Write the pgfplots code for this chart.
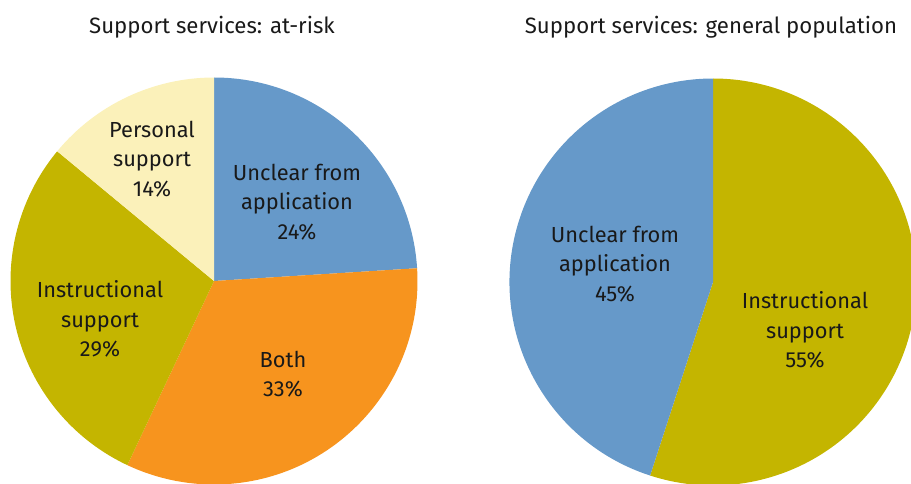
\documentclass[border=0pt]{standalone}
\usepackage{fontspec}
\setmainfont{Fira Sans}
\usepackage{pgfplots}
\usepackage{pgfplotstable}
\pgfplotsset{compat=1.18}
\definecolor{cblue}{HTML}{6699C9}
\definecolor{corange}{HTML}{F7941E}
\definecolor{colive}{HTML}{C4B500}
\definecolor{ccream}{HTML}{FBF1BA}

\pgfplotstableread{
label value
Unclear 24
Both 33
Instructional 29
Personal 14
}\atrisk
\pgfplotstableread{
label value
Instructional 55
Unclear 45
}\general

% cumulative angles, clockwise from 12 o'clock
\newcommand\getval[3]{\pgfplotstablegetelem{#2}{value}\of#1\global\let#3\pgfplotsretval}
\getval{\atrisk}{0}\vAa \getval{\atrisk}{1}\vAb \getval{\atrisk}{2}\vAc \getval{\atrisk}{3}\vAd
\getval{\general}{0}\vBa \getval{\general}{1}\vBb
\pgfmathsetmacro\aAa{90}
\pgfmathsetmacro\aAb{90-3.6*\vAa}
\pgfmathsetmacro\aAc{\aAb-3.6*\vAb}
\pgfmathsetmacro\aAd{\aAc-3.6*\vAc}
\pgfmathsetmacro\aAe{\aAd-3.6*\vAd}
\pgfmathsetmacro\aBa{90}
\pgfmathsetmacro\aBb{90-3.6*\vBa}
\pgfmathsetmacro\aBc{\aBb-3.6*\vBb}

\newcommand\slice[5]{% center x, center y, start, end, colour
  \fill[#5] (axis cs:#1,#2) -- ++(#3:101.75pt) arc[start angle=#3, end angle=#4, radius=101.75pt] -- cycle;}

\begin{document}
\begin{tikzpicture}
\begin{axis}[
  x=0.5pt, y=0.5pt,
  xmin=0, xmax=911, ymin=0, ymax=483,
  hide axis, clip=true,
]
\slice{214}{202}{\aAa}{\aAb}{cblue}
\slice{214}{202}{\aAb}{\aAc}{corange}
\slice{214}{202}{\aAc}{\aAd}{colive}
\slice{214}{202}{\aAd}{\aAe}{ccream}
\slice{713}{201}{\aBa}{\aBb}{colive}
\slice{713}{201}{\aBb}{\aBc}{cblue}

\tikzset{lbl/.style={align=center, font=\fontsize{10.9pt}{14.75pt}\selectfont, text=black!90},
         ttl/.style={font=\fontsize{11.1pt}{14pt}\selectfont, text=black!90}}
\node[ttl] at (axis cs:212,456) {Support services: at-risk};
\node[ttl] at (axis cs:711,456) {Support services: general population};

\node[lbl] at (axis cs:297,281) {Unclear from\\application\\\vAa\%};
\node[lbl] at (axis cs:283,109) {Both\\\vAb\%};
\node[lbl] at (axis cs:100,164) {Instructional\\support\\\vAc\%};
\node[lbl] at (axis cs:152,324) {Personal\\support\\\vAd\%};
\node[lbl] at (axis cs:615,219) {Unclear from\\application\\\vBb\%};
\node[lbl] at (axis cs:805,153) {Instructional\\support\\\vBa\%};
\end{axis}
\pgfresetboundingbox
\useasboundingbox (current axis.south west) rectangle (current axis.north east);
\end{tikzpicture}
\end{document}
